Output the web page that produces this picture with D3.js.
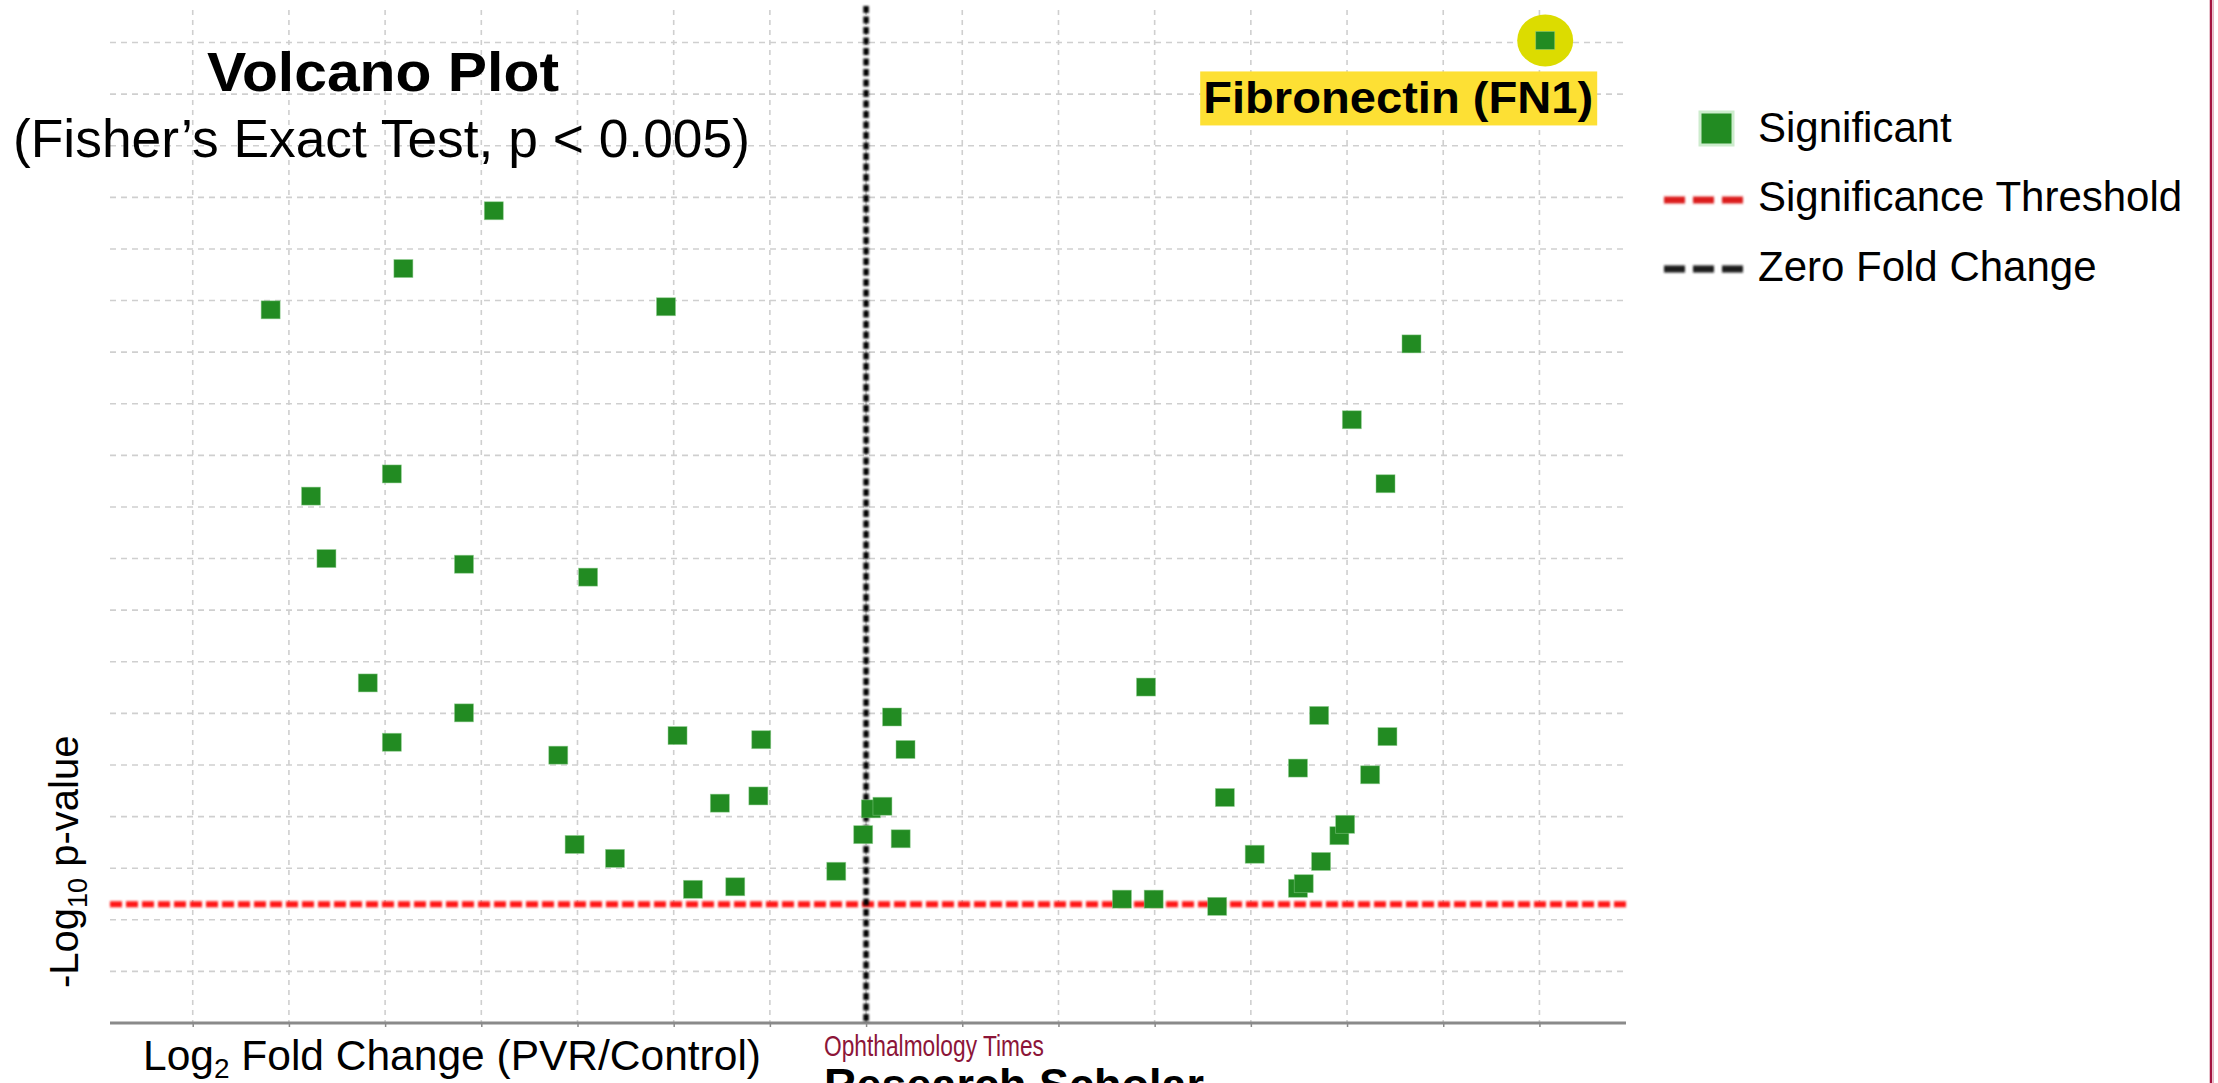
<!DOCTYPE html>
<html>
<head>
<meta charset="utf-8">
<script src="https://cdn.jsdelivr.net/npm/d3@7"></script>
<style>
  html, body { margin: 0; padding: 0; background: #ffffff; }
  svg { display: block; }
  text { font-family: "Liberation Sans", Arial, sans-serif; }
</style>
</head>
<body>
<svg id="chart" width="2218" height="1083"></svg>
<script>
// Significant genes: log2 fold change (PVR vs control) and -log10 p-value
const log2FC = [
  -6.19, -4.81, -3.87, -2.08, -5.77, -4.93, -5.61, -4.18, -2.89, -5.18,
  -4.93, -4.18, -3.20, -1.96, -1.09, -3.03, -2.61, -1.52, -1.12, -1.80,
  -1.36, -0.31, -0.03, 0.05, 0.17, 0.27, 0.41, 0.36, 2.91, 2.66,
  2.99, 3.65, 3.73, 4.04, 4.49, 4.49, 4.55, 4.71, 4.73, 4.92,
  4.98, 5.24, 5.42, 5.05, 5.40, 5.67, 7.06
];
const negLog10P = [
  13.82, 14.62, 15.74, 13.88, 10.21, 10.64, 9.00, 8.89, 8.64, 6.59,
  5.44, 6.01, 5.19, 5.57, 5.49, 3.46, 3.19, 4.26, 4.40, 2.59,
  2.64, 2.94, 3.65, 4.15, 4.20, 5.93, 5.30, 3.57, 6.51, 2.40,
  2.40, 2.26, 4.37, 3.27, 4.94, 2.61, 2.70, 5.96, 3.13, 3.63,
  3.85, 4.81, 5.55, 11.69, 10.45, 13.16, 19.04
];
// highlighted gene (last entry)
const highlightIndex = 46;
const highlightLabel = "Fibronectin (FN1)";

// significance threshold p < 0.005
const pThreshold = 0.005;

// grid positions
const xGridValues = [-7, -6, -5, -4, -3, -2, -1, 0, 1, 2, 3, 4, 5, 6, 7];
const yGridValues = [1, 2, 3, 4, 5, 6, 7, 8, 9, 10, 11, 12, 13, 14, 15, 16, 17, 18, 19];

const legendLabels = ["Significant", "Significance Threshold", "Zero Fold Change"];

const points = log2FC.map((x, i) => ({ x, y: negLog10P[i], i }));

const svg = d3.select("#chart");
svg.append("rect").attr("width", 2218).attr("height", 1083).attr("fill", "#ffffff");

// soft edge for the dashed reference lines
const defs = svg.append("defs");
defs.append("filter").attr("id", "soft")
  .attr("filterUnits", "userSpaceOnUse")
  .attr("x", 0).attr("y", 0).attr("width", 2218).attr("height", 1083)
  .append("feGaussianBlur").attr("stdDeviation", 0.8);

const plot = { left: 110, right: 1626, top: 10, bottom: 1023 };
const x = d3.scaleLinear().domain([-7.86, 7.9]).range([plot.left, plot.right]);
const y = d3.scaleLinear().domain([0, 19.63]).range([plot.bottom, plot.top]);

// grid
const grid = svg.append("g");
grid.selectAll("line.h").data(yGridValues).join("line")
  .attr("x1", plot.left).attr("x2", plot.right)
  .attr("y1", d => y(d)).attr("y2", d => y(d))
  .attr("stroke", "#cfcfcf").attr("stroke-width", 1.6).attr("stroke-dasharray", "6,5");
grid.selectAll("line.v").data(xGridValues).join("line")
  .attr("x1", d => x(d)).attr("x2", d => x(d))
  .attr("y1", plot.top).attr("y2", plot.bottom)
  .attr("stroke", "#cfcfcf").attr("stroke-width", 1.6).attr("stroke-dasharray", "5,5");

// bottom axis (unlabelled ticks)
const xAxis = d3.axisBottom(x).tickValues(xGridValues).tickSize(4).tickFormat("");
const axisG = svg.append("g").attr("transform", `translate(0,${plot.bottom})`).call(xAxis);
axisG.select(".domain").attr("d", `M${plot.left},0H${plot.right}`).attr("stroke", "#8a8a8a").attr("stroke-width", 3);
axisG.selectAll(".tick line").attr("stroke", "#8a8a8a").attr("stroke-width", 1.5);

// significance threshold
const yThr = y(-Math.log10(pThreshold));
svg.append("line")
  .attr("x1", plot.left).attr("x2", plot.right).attr("y1", yThr).attr("y2", yThr)
  .attr("stroke", "#ff1414").attr("stroke-width", 6).attr("stroke-dasharray", "12,4")
  .attr("filter", "url(#soft)");

// zero fold change
svg.append("line")
  .attr("x1", x(0)).attr("x2", x(0)).attr("y1", plot.top - 4).attr("y2", plot.bottom)
  .attr("stroke", "#000000").attr("stroke-width", 5.5).attr("stroke-dasharray", "7,3.5")
  .attr("filter", "url(#soft)");

// highlight halo for FN1
const hp = points[highlightIndex];
svg.append("ellipse")
  .attr("cx", x(hp.x)).attr("cy", y(hp.y)).attr("rx", 28).attr("ry", 26)
  .attr("fill", "#dcdc00");

// points
const sw = 19, sh = 18;
svg.append("g").selectAll("rect").data(points).join("rect")
  .attr("x", d => x(d.x) - sw / 2).attr("y", d => y(d.y) - sh / 2)
  .attr("width", sw).attr("height", sh)
  .attr("fill", "#228b22").attr("stroke", "#8fcf8f").attr("stroke-width", 0.8).attr("stroke-opacity", 0.6);

// FN1 label
const lblRight = x(hp.x) + 52, lblTop = y(hp.y) + 31;
svg.append("rect")
  .attr("x", lblRight - 397).attr("y", lblTop).attr("width", 397).attr("height", 54)
  .attr("fill", "#fde034");
svg.append("text")
  .attr("x", lblRight - 394).attr("y", lblTop + 42)
  .attr("font-size", 45).attr("font-weight", "bold").attr("fill", "#000")
  .attr("textLength", 390).attr("lengthAdjust", "spacingAndGlyphs")
  .text(highlightLabel);

// title
svg.append("text")
  .attr("x", 207).attr("y", 91)
  .attr("font-size", 56).attr("font-weight", "bold").attr("fill", "#000")
  .attr("textLength", 352).attr("lengthAdjust", "spacingAndGlyphs")
  .text("Volcano Plot");
svg.append("text")
  .attr("x", 13).attr("y", 157)
  .attr("font-size", 53).attr("fill", "#000")
  .attr("textLength", 737).attr("lengthAdjust", "spacingAndGlyphs")
  .text("(Fisher\u2019s Exact Test, p < 0.005)");

// legend
const lg = svg.append("g");
lg.append("rect").attr("x", 1700).attr("y", 112).attr("width", 33).attr("height", 33)
  .attr("fill", "#228b22").attr("stroke", "#cdeccd").attr("stroke-width", 3);
lg.append("line").attr("x1", 1664).attr("x2", 1746).attr("y1", 200).attr("y2", 200)
  .attr("stroke", "#dc1f1f").attr("stroke-width", 7).attr("stroke-dasharray", "21,8")
  .attr("filter", "url(#soft)");
lg.append("line").attr("x1", 1664).attr("x2", 1744).attr("y1", 269).attr("y2", 269)
  .attr("stroke", "#1a1a1a").attr("stroke-width", 7).attr("stroke-dasharray", "21,8")
  .attr("filter", "url(#soft)");
const legendBaselines = [141.7, 210.7, 281];
lg.selectAll("text").data(legendLabels).join("text")
  .attr("x", 1758).attr("y", (d, i) => legendBaselines[i])
  .attr("font-size", 42).attr("fill", "#000")
  .text(d => d);

// axis titles
const xt = svg.append("text").attr("x", 143).attr("y", 1070).attr("font-size", 42.5).attr("fill", "#000");
xt.append("tspan").text("Log");
xt.append("tspan").attr("font-size", 28).attr("dy", 8).text("2");
xt.append("tspan").attr("dy", -8).text(" Fold Change (PVR/Control)");

const yt = svg.append("text")
  .attr("transform", "translate(78,988) rotate(-90)")
  .attr("font-size", 40).attr("fill", "#000");
yt.append("tspan").text("-Log");
yt.append("tspan").attr("font-size", 27).attr("dy", 9).text("10");
yt.append("tspan").attr("dy", -9).text(" p-value");

// source mark
svg.append("text")
  .attr("x", 824).attr("y", 1056)
  .attr("font-family", "'Liberation Serif', 'Times New Roman', serif")
  .attr("font-size", 30).attr("fill", "#8c1538")
  .attr("textLength", 220).attr("lengthAdjust", "spacingAndGlyphs")
  .text("Ophthalmology Times");
svg.append("text")
  .attr("x", 824).attr("y", 1100)
  .attr("font-size", 45).attr("font-weight", "bold").attr("fill", "#000")
  .attr("textLength", 380).attr("lengthAdjust", "spacingAndGlyphs")
  .text("Research Scholar");

// right border rule
svg.append("line").attr("x1", 2211).attr("x2", 2211).attr("y1", 0).attr("y2", 1083)
  .attr("stroke", "#a3123f").attr("stroke-width", 2.5);
svg.append("line").attr("x1", 2213.5).attr("x2", 2213.5).attr("y1", 0).attr("y2", 1083)
  .attr("stroke", "#e8b3c2").attr("stroke-width", 1);
</script>
</body>
</html>
